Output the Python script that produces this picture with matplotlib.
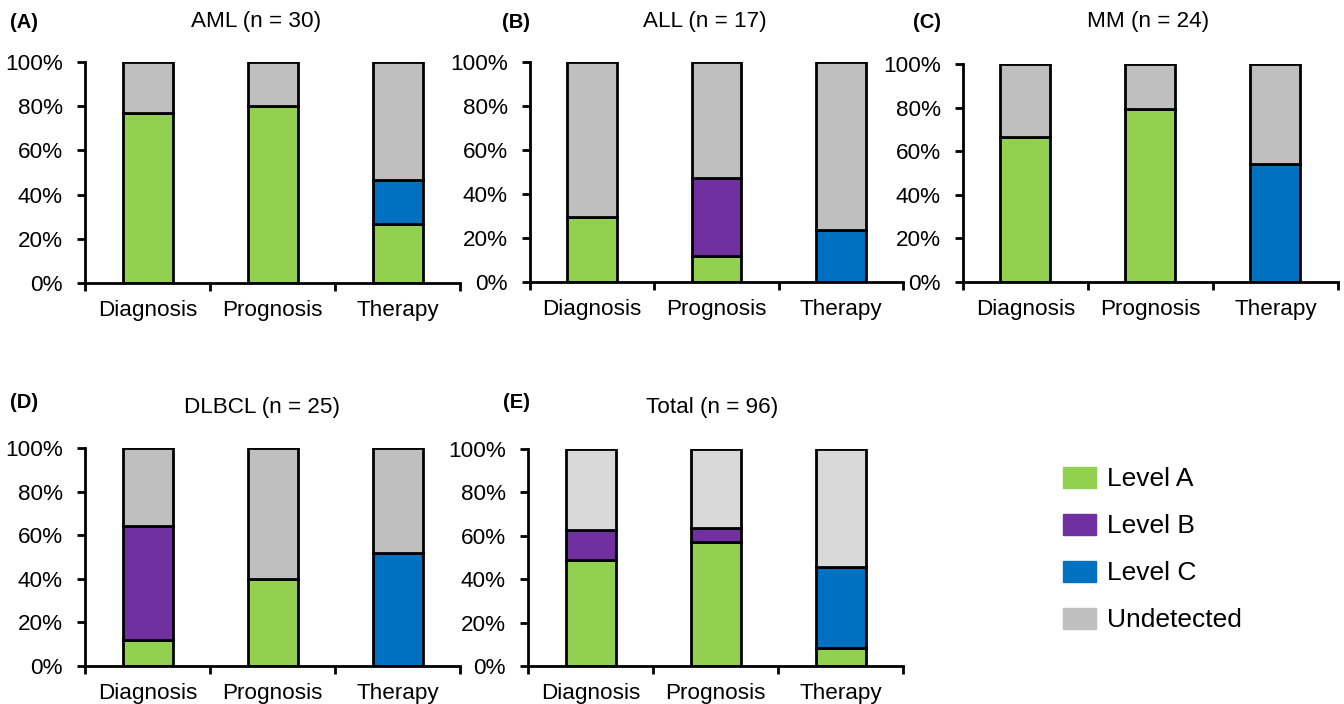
import matplotlib
matplotlib.use("Agg")
import matplotlib.pyplot as plt
from matplotlib.patches import Patch
import numpy as np

plt.rcParams['font.family'] = ['Liberation Sans', 'DejaVu Sans']

categories = ["Diagnosis", "Prognosis", "Therapy"]
levels = ["Level A", "Level B", "Level C", "Undetected"]

panel_letters = ["(A)", "(B)", "(C)", "(D)", "(E)"]
panel_titles = ["AML (n = 30)", "ALL (n = 17)", "MM (n = 24)", "DLBCL (n = 25)", "Total (n = 96)"]

# percentages per category (Diagnosis, Prognosis, Therapy)
aml_a = [76.7, 80.0, 26.7]
aml_b = [0.0, 0.0, 0.0]
aml_c = [0.0, 0.0, 20.0]

all_a = [29.4, 11.8, 0.0]
all_b = [0.0, 35.3, 0.0]
all_c = [0.0, 0.0, 23.5]

mm_a = [66.7, 79.2, 0.0]
mm_b = [0.0, 0.0, 0.0]
mm_c = [0.0, 0.0, 54.2]

dlbcl_a = [12.0, 40.0, 0.0]
dlbcl_b = [52.0, 0.0, 0.0]
dlbcl_c = [0.0, 0.0, 52.0]

total_a = [49.0, 57.3, 8.3]
total_b = [13.5, 6.2, 0.0]
total_c = [0.0, 0.0, 37.5]

panels = [
    (aml_a, aml_b, aml_c),
    (all_a, all_b, all_c),
    (mm_a, mm_b, mm_c),
    (dlbcl_a, dlbcl_b, dlbcl_c),
    (total_a, total_b, total_c),
]

col_a = "#92d050"
col_b = "#7030a0"
col_c = "#0070c0"
col_u = "#bfbfbf"
col_u_total = "#d9d9d9"

W, H = 1344, 704
fig = plt.figure(figsize=(W / 100, H / 100), dpi=100)

# axes boxes in pixels: (left, right, top(100%), bottom(0%))
boxes = [
    (85, 460, 62, 283),
    (530, 903, 62, 282),
    (963, 1338, 64, 282),
    (85, 460, 448, 666),
    (528, 903, 449, 666),
]
letter_pos = [(10, 22), (502, 22), (913, 22), (10, 403), (503, 403)]
title_pos = [(256, 22), (705, 22), (1148, 22), (262, 407), (712, 407)]

fs = 16.2
for i, (vals, box) in enumerate(zip(panels, boxes)):
    l, r, t, b = box
    ax = fig.add_axes([l / W, 1 - b / H, (r - l) / W, (b - t) / H])
    a, bb, c = (np.array(v) for v in vals)
    u = 100 - a - bb - c
    x = np.arange(len(categories)) + 0.5
    w = 0.4
    kw = dict(width=w, edgecolor="black", linewidth=2.0)
    ucol = col_u_total if i == 4 else col_u
    bottom = np.zeros(3)
    for seg, col in ((a, col_a), (bb, col_b), (c, col_c), (u, ucol)):
        mask = seg > 0
        ax.bar(x[mask], seg[mask], bottom=bottom[mask], color=col, **kw)
        bottom = bottom + seg
    ax.set_xlim(0, 3)
    ax.set_ylim(0, 100)
    ax.set_yticks(np.arange(0, 101, 20))
    ax.set_yticklabels([f"{v}%" for v in range(0, 101, 20)], fontsize=fs)
    ax.set_xticks([0, 1, 2, 3])
    ax.set_xticklabels([])
    ax.set_xticks(x, minor=True)
    ax.set_xticklabels(categories, minor=True, fontsize=fs)
    ax.tick_params(axis="x", which="minor", length=0, pad=12)
    ax.tick_params(axis="x", which="major", length=6, width=2, direction="out")
    ax.tick_params(axis="y", length=6, width=2, direction="out", pad=10)
    for s in ("top", "right"):
        ax.spines[s].set_visible(False)
    for s in ("left", "bottom"):
        ax.spines[s].set_linewidth(2)
    ax.patch.set_alpha(0)
    lx, ly = letter_pos[i]
    fig.text(lx / W, 1 - ly / H, panel_letters[i], fontsize=14.5, fontweight="bold",
             ha="left", va="center")
    tx, ty = title_pos[i]
    fig.text(tx / W, 1 - ty / H, panel_titles[i], fontsize=fs, ha="center", va="center")

handles = [Patch(facecolor=col, edgecolor=col) for col in (col_a, col_b, col_c, col_u)]
fig.legend(handles, levels, loc="upper left", bbox_to_anchor=(1052 / W, 1 - 456 / H),
           frameon=False, fontsize=19, handlelength=1.25, handleheight=0.85,
           handletextpad=0.45, labelspacing=0.85, borderaxespad=0)

fig.savefig("out.png", dpi=100)
